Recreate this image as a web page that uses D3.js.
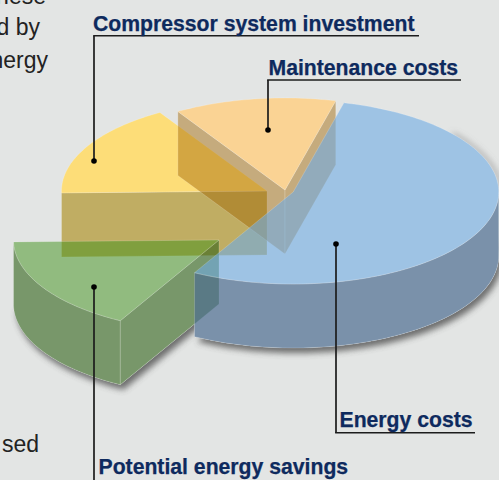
<!DOCTYPE html>
<html>
<head>
<meta charset="utf-8">
<script src="https://cdn.jsdelivr.net/npm/d3@7"></script>
<style>
  html, body { margin: 0; padding: 0; background: #e3e5e4; }
  svg { display: block; }
</style>
</head>
<body>
<svg id="chart"></svg>
<script>
// estimated shares, clockwise from the blue slice
var categories = ['Energy costs', 'Potential energy savings', 'Compressor system investment', 'Maintenance costs'];
var shares = [54, 16.7, 16.6, 12.7];
var bodyWords = ['these', 'ed by', 'energy', 'sed'];

var width = 499, height = 480;

var svg = d3.select('#chart').attr('width', width).attr('height', height);

// the ellipse of the tilted pie and how far each wedge was pulled out
var rx = d3.scaleLinear().domain([-1, 1]).range([-205.5, 205.5]);
var ry = d3.scaleLinear().domain([-1, 1]).range([-92, 92]);
var depth = 64;
var centerX = d3.scaleOrdinal().domain(categories).range([293.2, 219, 267, 285]);
var centerY = d3.scaleOrdinal().domain(categories).range([192, 240, 191, 190]);

var topFill = d3.scaleOrdinal().domain(categories).range(['#70abe4', '#3f911a', '#ffdc6c', '#ffce7f']);
var topAlpha = d3.scaleOrdinal().domain(categories).range([0.6, 0.5, 0.9, 0.8]);
var wallFill = d3.scaleOrdinal().domain(categories).range(['#4d6d91', '#316319', '#b79f42', '#a06400']);
var wallAlpha = d3.scaleOrdinal().domain(categories).range([0.7, 0.6, 0.8, 0.45]);

var pie = d3.pie().sort(null).startAngle(14.3 * Math.PI / 180).endAngle((14.3 + 360) * Math.PI / 180);
var slices = pie(shares).map(function (d, i) {
  return { name: categories[i], startAngle: d.startAngle, endAngle: d.endAngle };
});
var byName = {};
slices.forEach(function (s) { byName[s.name] = s; });

var line = d3.line();

function rim(name, a, drop) {
  return [centerX(name) + rx(Math.sin(a)), centerY(name) - ry(Math.cos(a)) + drop];
}
function apex(name, drop) {
  return [centerX(name), centerY(name) + drop];
}
function arcPoints(name, a0, a1, drop) {
  var n = Math.ceil(Math.abs(a1 - a0) * 40);
  return d3.range(n + 1).map(function (i) {
    return rim(name, a0 + (a1 - a0) * i / n, drop);
  });
}
function topFace(name) {
  var s = byName[name];
  return line([apex(name, 0)].concat(arcPoints(name, s.startAngle, s.endAngle, 0))) + 'Z';
}
// wall standing under the arc between two angles
function arcWall(name, a0, a1) {
  return line(arcPoints(name, a0, a1, 0).concat(arcPoints(name, a1, a0, depth))) + 'Z';
}
// wall standing under a cut edge, from the rim to the apex
function cutWall(name, a) {
  return line([rim(name, a, 0), apex(name, 0), apex(name, depth), rim(name, a, depth)]) + 'Z';
}
function silhouette(name) {
  var s = byName[name];
  var pts = [apex(name, 0)].concat(arcPoints(name, s.startAngle, s.endAngle, 0));
  var low = pts.map(function (p) { return [p[0], p[1] + depth]; });
  return line(pts) + 'Z' + line(low) + 'Z';
}

var defs = svg.append('defs');
defs.append('filter')
  .attr('id', 'soft')
  .attr('x', '-20%').attr('y', '-20%').attr('width', '140%').attr('height', '140%')
  .append('feGaussianBlur')
  .attr('stdDeviation', 3);

svg.append('rect').attr('width', width).attr('height', height).attr('fill', '#e3e5e4');

// body text of the page, cut by the left edge
var bodyY = [4, 35, 68, 452];
var bodyEnd = [46, 40, 48, 39];
svg.selectAll('.body')
  .data(bodyWords)
  .enter()
  .append('text')
  .attr('class', 'body')
  .attr('x', function (d, i) { return bodyEnd[i]; })
  .attr('y', function (d, i) { return bodyY[i]; })
  .attr('text-anchor', 'end')
  .attr('font-family', 'Liberation Sans, Arial, sans-serif')
  .attr('font-size', 23)
  .attr('fill', '#222')
  .text(function (d) { return d; });

var blue = categories[0], green = categories[1], yellow = categories[2], peach = categories[3];

// soft shadow under the pulled out pieces, then the bare background again inside their outline
var outlines = [
  line(arcPoints(blue, byName[blue].startAngle, byName[blue].endAngle, depth)),
  line([apex(green, depth)].concat(arcPoints(green, byName[green].startAngle, byName[green].endAngle, depth))) + 'Z'
];
svg.selectAll('.shadow')
  .data(outlines)
  .enter()
  .append('path')
  .attr('class', 'shadow')
  .attr('d', function (d) { return d; })
  .attr('transform', 'translate(3,5)')
  .attr('fill', '#444')
  .attr('opacity', 0.75)
  .attr('filter', 'url(#soft)');
svg.append('path')
  .attr('d', line(arcPoints(blue, 50 * Math.PI / 180, Math.PI / 2, 0)))
  .attr('transform', 'translate(2,1)')
  .attr('fill', 'none')
  .attr('stroke', '#777')
  .attr('stroke-width', 2)
  .attr('filter', 'url(#soft)');
[blue, green].forEach(function (name) {
  svg.append('path')
    .attr('d', silhouette(name))
    .attr('fill', '#e3e5e4');
  var s = byName[name];
  var a0 = name === blue ? Math.PI / 2 : s.startAngle;
  svg.append('path').attr('d', arcWall(name, a0, s.endAngle)).attr('fill', '#e3e5e4');
  if (name === green) {
    svg.append('path').attr('d', cutWall(name, s.startAngle)).attr('fill', '#e3e5e4');
  }
});

// what is visible of each wedge, back to front
var faces = [
  { name: yellow, kind: 'wall', d: cutWall(yellow, byName[yellow].startAngle) },
  { name: yellow, kind: 'top', d: topFace(yellow) },
  { name: peach, kind: 'wall', d: cutWall(peach, byName[peach].startAngle) },
  { name: peach, kind: 'wall', d: cutWall(peach, byName[peach].endAngle) },
  { name: peach, kind: 'top', d: topFace(peach) },
  { name: green, kind: 'wall', d: arcWall(green, byName[green].startAngle, byName[green].endAngle) },
  { name: green, kind: 'wall', d: cutWall(green, byName[green].startAngle) },
  { name: green, kind: 'top', d: topFace(green) },
  { name: blue, kind: 'wall', d: arcWall(blue, Math.PI / 2, byName[blue].endAngle) },
  { name: blue, kind: 'top', d: topFace(blue) }
];
svg.selectAll('.face')
  .data(faces)
  .enter()
  .append('path')
  .attr('class', 'face')
  .attr('d', function (d) { return d.d; })
  .attr('fill', function (d) { return d.kind === 'top' ? topFill(d.name) : wallFill(d.name); })
  .attr('fill-opacity', function (d) { return d.kind === 'top' ? topAlpha(d.name) : wallAlpha(d.name); })
  .attr('stroke', '#fff')
  .attr('stroke-opacity', 0.3)
  .attr('stroke-width', 0.6);

// leader lines and labels
var labelX = [339.5, 98.5, 93, 268.5];
var labelY = [427, 474, 31, 75];
var ruleEnd = [475, null, 419, 461];
var ruleY = [432.75, null, 35.75, 80];
var stemX = [336, 94, 94, 268];
var dotY = [244, 287, 161, 130];
var stemEnd = [433, 480, 36, 80];

svg.selectAll('.stem')
  .data(categories)
  .enter()
  .append('line')
  .attr('class', 'stem')
  .attr('x1', function (d, i) { return stemX[i]; })
  .attr('x2', function (d, i) { return stemX[i]; })
  .attr('y1', function (d, i) { return dotY[i]; })
  .attr('y2', function (d, i) { return stemEnd[i]; })
  .attr('stroke', '#1c1c1c')
  .attr('stroke-width', 1.7);

svg.selectAll('.rule')
  .data(categories.filter(function (d, i) { return ruleEnd[i] !== null; }))
  .enter()
  .append('line')
  .attr('class', 'rule')
  .attr('x1', function (d) { return stemX[categories.indexOf(d)] - 0.85; })
  .attr('x2', function (d) { return ruleEnd[categories.indexOf(d)]; })
  .attr('y1', function (d) { return ruleY[categories.indexOf(d)]; })
  .attr('y2', function (d) { return ruleY[categories.indexOf(d)]; })
  .attr('stroke', '#1c1c1c')
  .attr('stroke-width', 1.7);

svg.selectAll('.dot')
  .data(categories)
  .enter()
  .append('circle')
  .attr('class', 'dot')
  .attr('cx', function (d, i) { return stemX[i]; })
  .attr('cy', function (d, i) { return dotY[i]; })
  .attr('r', 2.8)
  .attr('fill', '#000');

svg.selectAll('.label')
  .data(categories)
  .enter()
  .append('text')
  .attr('class', 'label')
  .attr('x', function (d, i) { return labelX[i]; })
  .attr('y', function (d, i) { return labelY[i]; })
  .attr('font-family', 'Liberation Sans, Arial, sans-serif')
  .attr('font-weight', 'bold')
  .attr('font-size', 21.2)
  .attr('fill', '#0e2a5e')
  .attr('stroke', '#0e2a5e')
  .attr('stroke-width', 0.25)
  .text(function (d) { return d; });
</script>
</body>
</html>
